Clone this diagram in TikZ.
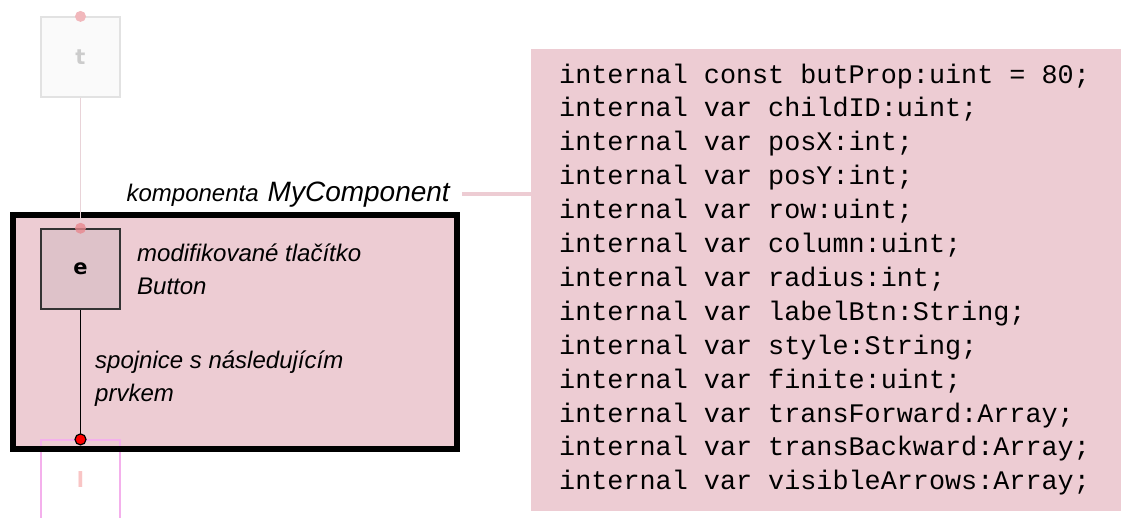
\documentclass[tikz,border=0pt]{standalone}
\usepackage{fontspec}
\setmainfont{Liberation Sans}
\newfontfamily\codefont{Liberation Mono}
\newfontfamily\elemfont{DejaVu Sans}
\definecolor{comppink}{RGB}{237,204,211}
\definecolor{btnpink}{RGB}{222,194,201}
\definecolor{fadegray}{RGB}{226,226,226}
\definecolor{fadeline}{RGB}{233,211,216}
\definecolor{nextmag}{RGB}{244,176,236}
\definecolor{nextletter}{RGB}{249,197,197}
\definecolor{dotpink}{RGB}{232,136,143}
\tikzset{
  elem/.style={minimum width=79pt, minimum height=80pt, inner sep=0pt, font=\elemfont\fontsize{21}{24}\selectfont\bfseries},
  note/.style={inner sep=0pt, font=\fontsize{24}{28}\selectfont\itshape, anchor=base west},
  codeline/.style={inner sep=0pt, font=\codefont\fontsize{26.8}{32}\selectfont, anchor=base west},
  link/.style={comppink, line width=4.5pt}
}
\begin{document}
\begin{tikzpicture}[x=1pt, y=-1pt]
 \useasboundingbox (0,0) rectangle (1121,517);
 % code box
 \node[fill=comppink, minimum width=590pt, minimum height=462pt, inner sep=0pt, anchor=north west] (code) at (531,49) {};
 \foreach \txt [count=\i] in {internal const butProp:uint = 80;, internal var childID:uint;, internal var posX:int;, internal var posY:int;, internal var row:uint;, internal var column:uint;, internal var radius:int;, internal var labelBtn:String;, internal var style:String;, internal var finite:uint;, internal var transForward:Array;, internal var transBackward:Array;, internal var visibleArrows:Array;}
  \node[codeline] (line\i) at (559,{83+33.9*(\i-1)}) {\txt};
 % component frame
 \node[fill=comppink, minimum width=444pt, minimum height=234pt, inner sep=0pt, anchor=north west] (comp) at (13,215) {};
 \node[elem, fill=white!98!black, draw=fadegray, line width=1.2pt, text=black!20] (t) at (80.5,57) {t};
 \node[elem, fill=btnpink, draw=black!80, line width=1.5pt] (e) at (80.5,269) {e};
 \node[elem, draw=nextmag, line width=1.2pt, text=nextletter] (l) at (80.5,480) {l};
 \draw[line width=6pt] (comp.north west) rectangle (comp.south east);
 \draw[fadeline, line width=1.5pt] (t) -- (e);
 \draw[line width=1.3pt] (e) -- (l.north);
 \fill[dotpink!60] (t.north) circle (5.5);
 \fill[dotpink, opacity=0.8] (e.north) circle (5.5);
 \draw[fill=red, line width=1.2pt] (l.north) circle (5.5);
 % labels
 \node[inner sep=0pt, font=\itshape, anchor=base east] (lbl) at (450,201) {{\fontsize{24}{28}\selectfont komponenta}\hspace{9pt}{\fontsize{28}{32}\selectfont MyComponent}};
 \draw[link, shorten <=12pt] (lbl.east) -- (lbl.east -| code.west);
 \node[note] (btn1) at (137,261) {modifikované tlačítko};
 \node[note] (btn2) at ([yshift=-33.5pt]btn1.base west) {Button};
 \node[note] (wire1) at (95,368) {spojnice s následujícím};
 \node[note] (wire2) at ([yshift=-33.5pt]wire1.base west) {prvkem};
\end{tikzpicture}
\end{document}
